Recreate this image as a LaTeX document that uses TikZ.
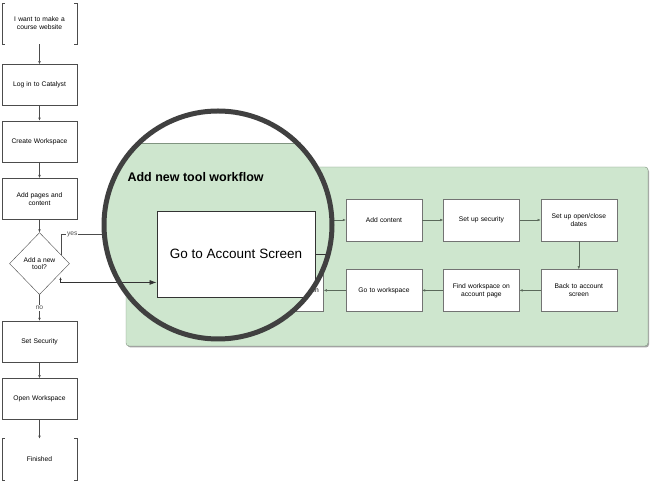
\documentclass[tikz,border=0pt]{standalone}
\usepackage{fontspec}
\setmainfont{Liberation Sans}
\usetikzlibrary{arrows.meta,positioning,shapes.geometric,calc}

\definecolor{panelgreen}{RGB}{206,230,206}
\definecolor{panelline}{RGB}{128,148,128}
\definecolor{flowline}{RGB}{90,105,90}
\definecolor{lensgray}{RGB}{64,64,64}

\begin{document}
\begin{tikzpicture}[
    x=1pt, y=1pt,
    node distance=16pt,
    box/.style={draw=black!70, fill=white, align=center,
      font=\fontsize{6.7}{7.9}\selectfont, inner sep=2pt, text width=70pt,
      minimum width=75pt, minimum height=41pt},
    term/.style={box, draw=none},
    ask/.style={diamond, draw=black!70, fill=white, align=center,
      font=\fontsize{6.7}{7.9}\selectfont, inner sep=0pt,
      minimum width=60pt, minimum height=62pt},
    wbox/.style={box, draw=black!55, minimum width=76pt, minimum height=42pt},
    lbl/.style={fill=white, inner sep=1pt, font=\fontsize{6.7}{7.9}\selectfont},
    arr/.style={-{Latex[length=3pt,width=2.5pt]}, black!70},
    warr/.style={-{Latex[length=3pt,width=2.5pt]}, flowline}
  ]
  \useasboundingbox (0,0) rectangle (650,481);

  % main flow
  \node[term] (start) at (39.5,457.5) {I want to make a\\course website};
  \node[box, below=20pt of start] (login) {Log in to Catalyst};
  \node[box, below=15pt of login] (create) {Create Workspace};
  \node[box, below=16pt of create] (pages) {Add pages and\\content};
  \node[ask, below=13pt of pages] (tool) {Add a new\\tool?};
  \node[box, below=26pt of tool] (setsec) {Set Security};
  \node[box, below=16pt of setsec] (openws) {Open Workspace};
  \node[term, below=19pt of openws] (finish) {Finished};

  \foreach \t in {start,finish}{
    \draw[black!70] ([xshift=3pt]\t.north west) -| (\t.south west) -- ++(3pt,0);
    \draw[black!70] ([xshift=-3pt]\t.north east) -| (\t.south east) -- ++(-3pt,0);
  }

  \draw[arr] (start) -- (login);
  \draw[arr] (login) -- (create);
  \draw[arr] (create) -- (pages);
  \draw[arr] (pages) -- (tool);
  \draw[arr] (tool) -- node[lbl] {no} (setsec);
  \draw[arr] (setsec) -- (openws);
  \draw[arr] (openws) -- (finish);

  \coordinate (yesend) at (130,247);
  \draw[black!70] ($(tool.east)!0.28!(tool.north)$) |- node[lbl, pos=0.58] {yes} (yesend);

  % workflow panel
  \fill[black!35, rounded corners=3pt] (127.5,133.5) rectangle (649,312.5);
  \node[fill=panelgreen, draw=panelline, rounded corners=3pt, inner sep=0pt,
    minimum width=522pt, minimum height=179pt] (panel) at (387,224.5) {};

  \node[wbox] (content) at (384,261) {Add content};
  \node[wbox, right=21pt of content] (security) {Set up security};
  \node[wbox, right=21pt of security] (dates) {Set up open/close\\dates};
  \node[wbox, below=28pt of dates] (backacc) {Back to account\\screen};
  \node[wbox, left=21pt of backacc] (findws) {Find workspace on\\account page};
  \node[wbox, left=21pt of findws] (gows) {Go to workspace};
  \node[wbox, left=22pt of gows] (account) {Go to Account Screen};

  \draw[warr] (content) -- (security);
  \draw[warr] (security) -- (dates);
  \draw[warr] (dates) -- (backacc);
  \draw[warr] (backacc) -- (findws);
  \draw[warr] (findws) -- (gows);
  \draw[warr] (gows) -- (account);
  \draw[warr] (account) |- (content);

  % magnifier
  \begin{scope}
    \clip (218,256) circle (114);
    \fill[white] (90,130) rectangle (340,380);
    \fill[panelgreen] (90,130) rectangle (340,338);
    \draw[panelline] (90,338) -- (340,338);
    \node[anchor=west, font=\bfseries\fontsize{12.5}{15}\selectfont] (title) at (124,304) {Add new tool workflow};
    \node[draw=black!80, fill=white, line width=0.9pt, minimum width=158pt, minimum height=86pt,
      font=\fontsize{13.5}{16}\selectfont] (magbox) at (236,227) {Go to Account Screen};
    \coordinate (lensout) at (340,227);
    \draw[black!80, line width=0.9pt] (magbox) -- (lensout);
  \end{scope}

  \coordinate (loopin) at (60.5,204);
  \draw[{Latex[length=3pt,width=2.5pt]}-{Latex[length=7pt,width=5pt]}, black!80, line width=0.7pt]
    (loopin) |- ([yshift=15pt]magbox.south west);

  \draw[lensgray, line width=5pt] (218,256) circle (114);
\end{tikzpicture}
\end{document}
